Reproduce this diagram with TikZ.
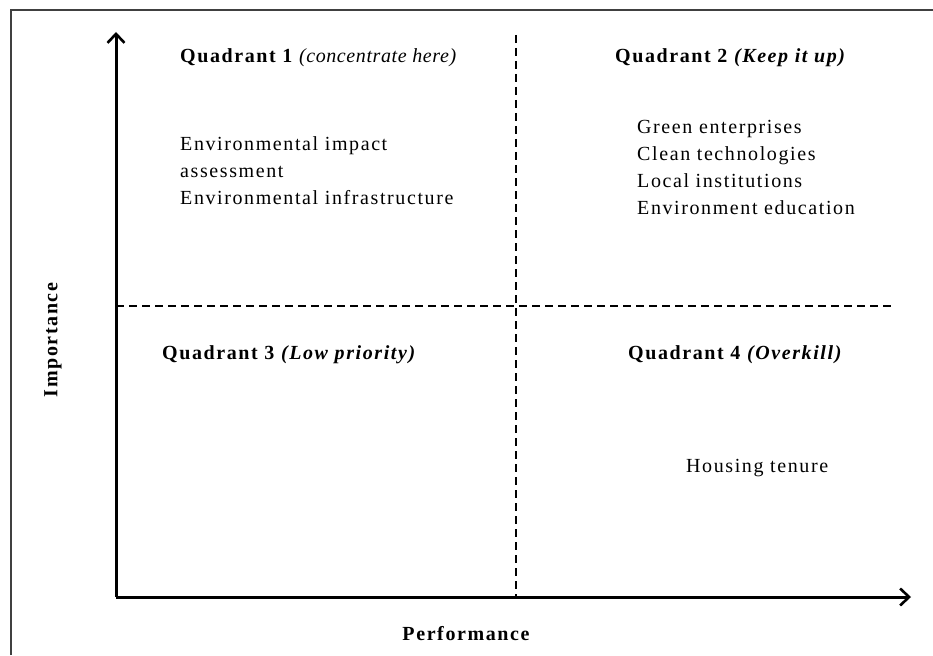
\documentclass[tikz,border=0pt]{standalone}
\usepackage{fontspec}
\setmainfont{Liberation Serif}[LetterSpace=8]
\usetikzlibrary{arrows.meta,positioning}

\begin{document}
\begin{tikzpicture}[x=1pt,y=-1pt,>={Straight Barb[length=9pt,width=17pt,line width=2.6pt]},
  lbl/.style={anchor=west,inner sep=0pt,align=left,font=\fontsize{20}{27}\selectfont},
  quad/.style={lbl,font=\fontsize{20}{27}\selectfont\bfseries},
  axis/.style={->,line width=3pt},
  divider/.style={line width=2.4pt,dash pattern=on 8pt off 5pt}]
  \useasboundingbox (0,0) rectangle (933,655);
  % outer frame (open at right and bottom)
  \draw[line width=2pt,black!75] (11,655) -- (11,10) -- (933,10);

  % axes
  \coordinate (O) at (116,597);
  \coordinate (ytip) at (116,32);
  \coordinate (xtip) at (911,597);
  \draw[axis] (O) -- (ytip);
  \draw[axis] (O) -- (xtip);

  % dividers
  \coordinate (vtop) at (516,35);
  \coordinate (vbot) at (516,597);
  \coordinate (hleft) at (116,306);
  \coordinate (hright) at (895,306);
  \draw[divider] (vtop) -- (vbot);
  \draw[divider] (hleft) -- (hright);

  % quadrant titles
  \node[quad] (q1) at (180,58) {Quadrant 1 \textit{\mdseries\addfontfeatures{LetterSpace=3}(concentrate here)}};
  \node[quad] (q2) at (615,58) {Quadrant 2 \textit{(Keep it up)}};
  \node[quad] (q3) at (162,355) {Quadrant 3 \textit{(Low priority)}};
  \node[quad] (q4) at (628,355) {Quadrant 4 \textit{(Overkill)}};

  % items
  \node[lbl] (items1) at (180,171) {Environmental impact\\assessment\\Environmental infrastructure};
  \node[lbl] (items2) at (637,167) {Green enterprises\\Clean technologies\\Local institutions\\Environment education};
  \node[lbl] (items4) at (686,468) {Housing tenure};

  % axis labels
  \node[quad,anchor=center,rotate=90] (imp) at (53,340) {Importance};
  \node[quad,anchor=center] (perf) at (466,634) {Performance};
\end{tikzpicture}
\end{document}
